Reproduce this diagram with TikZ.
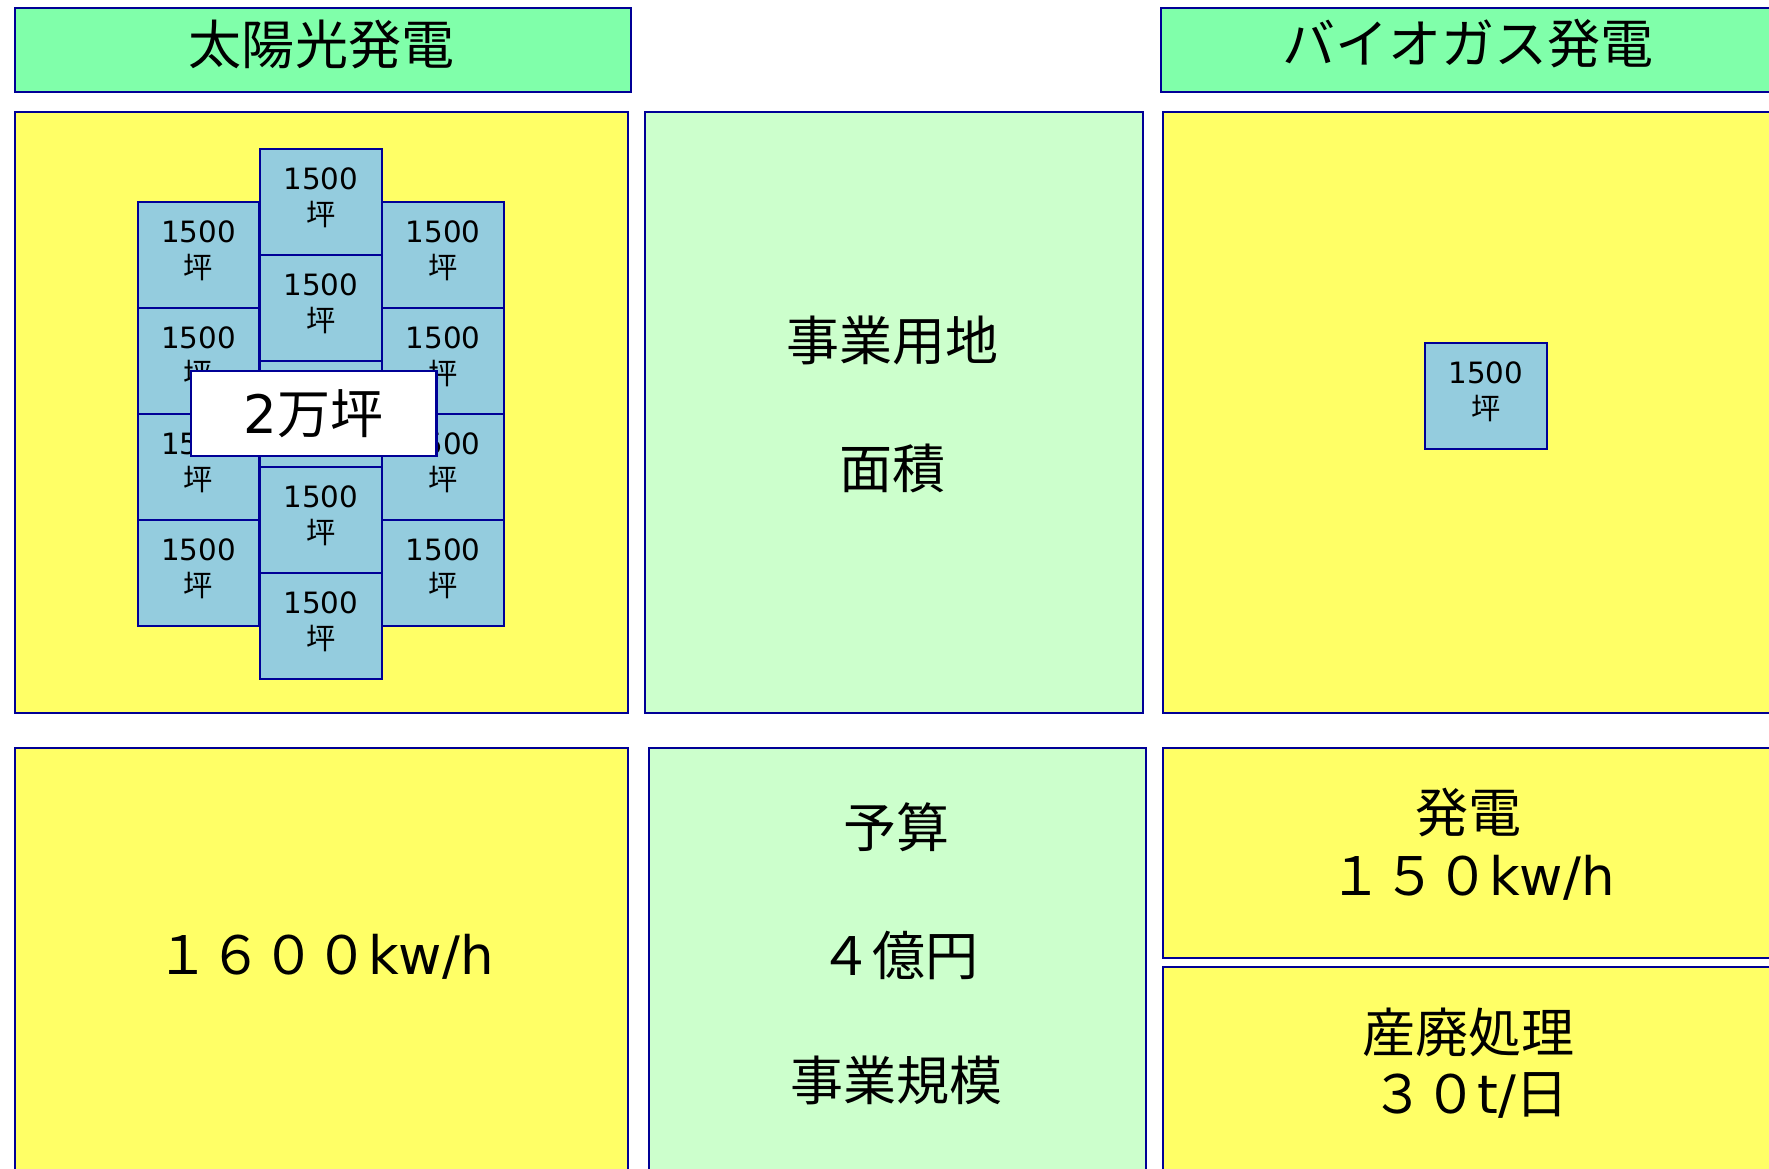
\documentclass[tikz,border=0pt]{standalone}
\usepackage{fontspec}
\setmainfont{DejaVu Sans}
\newfontfamily\jp{Noto Sans CJK JP}
\definecolor{hdrgreen}{RGB}{128,255,170}
\definecolor{panelyellow}{RGB}{255,255,102}
\definecolor{panelgreen}{RGB}{204,255,204}
\definecolor{tileblue}{RGB}{148,204,222}
\definecolor{navy}{RGB}{0,0,150}
\tikzset{
  box/.style={draw=navy,line width=1.8pt,inner sep=0pt,anchor=north west},
  hdr/.style={box,fill=hdrgreen},
  ypanel/.style={box,fill=panelyellow},
  gpanel/.style={box,fill=panelgreen},
  tile/.style={box,fill=tileblue,minimum width=108pt,minimum height=94pt,
    align=center,text depth=9pt,font=\fontsize{26}{32}\selectfont},
  big/.style={font=\fontsize{47}{56}\selectfont,inner sep=0pt,align=center},
}
\newcommand{\tiletext}{1500\\{\jp 坪}}
\begin{document}
\begin{tikzpicture}[x=1pt,y=-1pt]
\useasboundingbox (0,0) rectangle (1568,1036);
\clip (0,0) rectangle (1568,1036);
\fill[white] (0,0) rectangle (1568,1036);
% headers
\node[hdr,minimum width=546pt,minimum height=75pt] (h1) at (12,6) {};
\node[big] (h1t) at (285,39) {\jp 太陽光発電};
\node[hdr,minimum width=560pt,minimum height=75pt] (h2) at (1028,6) {};
\node[big] (h2t) at (1301,39) {\jp バイオガス発電};
% top panels
\node[ypanel,minimum width=544pt,minimum height=533pt] (p1) at (12,98) {};
\node[gpanel,minimum width=441pt,minimum height=533pt] (p2) at (571,98) {};
\node[ypanel,minimum width=560pt,minimum height=533pt] (p3) at (1030,98) {};
\node[big] (p2a) at (791,302) {\jp 事業用地};
\node[big] (p2b) at (791,415) {\jp 面積};
% tiles
\node[tile] (l1) at (121,178) {\tiletext};
\node[tile] (l2) at (121,272) {\tiletext};
\node[tile] (l3) at (121,366) {\tiletext};
\node[tile] (l4) at (121,460) {\tiletext};
\node[tile] (m1) at (229.5,131) {\tiletext};
\node[tile] (m2) at (229.5,225) {\tiletext};
\node[tile] (m3) at (229.5,319) {};
\node[tile] (m4) at (229.5,413) {\tiletext};
\node[tile] (m5) at (229.5,507) {\tiletext};
\node[tile] (r1) at (338,178) {\tiletext};
\node[tile] (r2) at (338,272) {\tiletext};
\node[tile] (r3) at (338,366) {\tiletext};
\node[tile] (r4) at (338,460) {\tiletext};
\node[box,fill=white,minimum width=218pt,minimum height=75pt,font=\fontsize{47}{56}\selectfont] (tot) at (168,328) {2{\jp 万坪}};
\node[tile] (b1) at (1262,303) {\tiletext};
% bottom panels
\node[ypanel,minimum width=544pt,minimum height=420pt] (q1) at (12,662) {};
\node[big] (q1t) at (288,848) {{\jp １６００}kw/h};
\node[gpanel,minimum width=441pt,minimum height=420pt] (q2) at (574,662) {};
\node[big] (q2a) at (795,733) {\jp 予算};
\node[big] (q2b) at (797,847) {{\jp ４億円}};
\node[big] (q2c) at (795,958) {\jp 事業規模};
\node[ypanel,minimum width=560pt,minimum height=186pt] (q3) at (1030,662) {};
\node[big] (q3a) at (1302,720) {\jp 発電};
\node[big] (q3b) at (1305,778) {{\jp １５０}kw/h};
\node[ypanel,minimum width=560pt,minimum height=220pt] (q4) at (1030,856) {};
\node[big] (q4a) at (1302,915) {\jp 産廃処理};
\node[big] (q4b) at (1303,971) {{\jp ３０}t/{\jp 日}};
\end{tikzpicture}
\end{document}
